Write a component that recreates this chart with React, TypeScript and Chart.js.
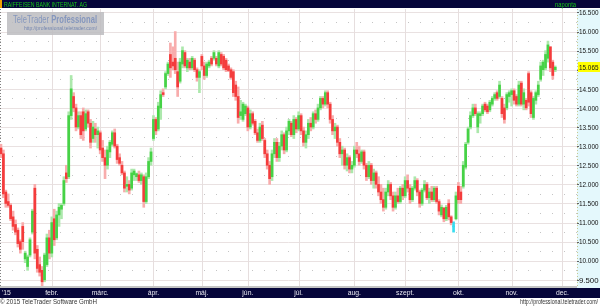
import React, { useEffect, useRef } from "react";
import { Chart, registerables } from "chart.js";

Chart.register(...registerables);

const monthLabels = ["'15", "febr.", "márc.", "ápr.", "máj.", "jún.", "júl.", "aug.", "szept.", "okt.", "nov.", "dec."];
const monthStartIdx = [0, 21, 41, 63, 83, 102, 123, 146, 167, 189, 211, 232];
const yTickValues = [16.5, 16, 15.5, 15, 14.5, 14, 13.5, 13, 12.5, 12, 11.5, 11, 10.5, 10, 9.5];
const lastPrice = 15.065;
const titleText = "RAIFFEISEN BANK INTERNAT. AG";
const periodText = "naponta";

const open = [
  12.95, 12.8, 11.8, 11.55, 11.45, 11.15, 10.95, 10.8, 10.5, 10.9, 10.05, 9.85, 10.15, 10.75, 11.9, 10.3, 9.9, 9.75, 9.5, 9.9, 10.6,
  10.2, 11.1, 10.6, 11.2, 11.35, 11.5, 12.3, 12.2, 13.8, 14.3, 14.0, 13.5, 13.8, 13.9, 13.45, 13.9, 13.6, 13.2, 13.45, 13.3,
  13.35, 12.95, 12.7, 12.5, 12.85, 13.05, 13.35, 13.0, 12.7, 12.5, 12.3, 11.95, 12.0, 11.9, 12.25, 12.2, 12.25, 12.1, 12.2, 11.55, 12.2, 12.6,
  13.2, 13.7, 13.45, 14.0, 14.4, 14.55, 14.9, 15.4, 15.2, 15.3, 14.95, 14.7, 15.15, 15.45, 15.05, 15.2, 15.05, 15.25, 15.0, 14.8,
  15.35, 15.1, 14.85, 15.1, 15.3, 15.3, 15.3, 15.1, 15.4, 15.35, 15.25, 15.1, 15.0, 14.95, 14.6, 14.3, 13.8, 13.7, 13.85,
  14.0, 13.5, 13.85, 13.65, 13.35, 13.15, 13.55, 13.15, 12.8, 12.5, 12.2, 12.8, 13.1, 12.7, 13.0, 13.3, 12.9, 13.4, 13.6, 13.3, 13.7,
  13.45, 13.8, 13.4, 13.1, 13.3, 13.6, 13.5, 13.85, 13.7, 14.0, 14.25, 14.1, 14.4, 14.1, 13.7, 13.4, 13.5, 13.1, 12.8, 12.9, 12.5, 12.7, 12.4,
  12.5, 12.9, 12.8, 12.6, 12.85, 12.5, 12.2, 12.5, 12.1, 12.3, 12.0, 11.8, 11.6, 11.4, 11.8, 12.0, 11.7, 11.4, 11.7, 11.55, 11.9,
  11.7, 12.1, 11.9, 11.6, 11.9, 12.1, 11.8, 11.5, 11.85, 12.0, 11.65, 11.8, 11.6, 11.9, 11.55, 11.2, 11.38, 11.1, 11.5, 11.15, 10.9, 11.1,
  11.95, 11.8, 11.95, 12.45, 13.1, 13.5, 13.8, 14.0, 13.5, 13.8, 13.85, 14.1, 14.05, 13.95, 14.1, 14.25, 14.4, 14.3, 14.25, 14.0, 14.0, 14.3,
  14.35, 14.45, 14.3, 14.1, 14.65, 14.1, 14.2, 14.9, 14.4, 13.75, 14.2, 14.35, 14.75, 15.0, 15.05, 15.3, 15.6, 15.2, 15.0,
];
const high = [
  13.05, 12.9, 11.85, 11.75, 11.5, 11.3, 11.07, 10.86, 10.55, 11.0, 10.25, 10.15, 10.6, 11.35, 12.0, 10.4, 10.1, 9.85, 10.2, 10.7, 10.8,
  11.15, 11.35, 11.3, 11.5, 11.5, 12.2, 12.5, 13.9, 14.85, 14.4, 14.1, 13.9, 13.9, 14.0, 13.95, 13.95, 13.7, 13.65, 13.6, 13.5,
  13.4, 13.15, 12.9, 13.0, 13.15, 13.4, 13.45, 13.05, 12.8, 12.6, 12.35, 12.2, 12.1, 12.4, 12.4, 12.3, 12.35, 12.3, 12.25, 12.3, 12.7, 12.95,
  13.8, 13.75, 14.15, 14.45, 14.5, 14.95, 15.2, 15.7, 15.6, 16.0, 15.2, 15.3, 15.6, 15.5, 15.3, 15.3, 15.35, 15.3, 15.05, 15.0,
  15.4, 15.2, 15.2, 15.25, 15.35, 15.5, 15.35, 15.5, 15.45, 15.4, 15.3, 15.15, 15.05, 15.0, 14.7, 14.55, 14.2, 14.15, 14.1,
  14.05, 13.95, 13.9, 13.7, 13.45, 13.6, 13.65, 13.2, 12.9, 12.6, 12.9, 13.2, 13.2, 13.1, 13.4, 13.35, 13.5, 13.7, 13.65, 13.8, 13.75,
  13.9, 13.85, 13.5, 13.4, 13.7, 13.75, 13.9, 13.95, 14.1, 14.3, 14.3, 14.45, 14.45, 14.15, 13.8, 13.6, 13.55, 13.2, 13.0, 12.95, 12.8, 12.75, 12.6,
  13.0, 13.1, 13.0, 12.9, 12.9, 12.55, 12.6, 12.55, 12.4, 12.35, 12.2, 12.0, 11.9, 11.9, 12.1, 12.05, 11.8, 11.8, 11.9, 11.95, 12.0,
  12.2, 12.25, 12.0, 11.95, 12.2, 12.15, 11.85, 11.9, 12.1, 12.05, 11.9, 11.95, 11.95, 11.95, 11.6, 11.46, 11.4, 11.45, 11.6, 11.18, 11.02, 11.8,
  12.05, 11.95, 12.6, 13.1, 13.5, 13.9, 14.1, 14.1, 13.9, 13.9, 14.1, 14.15, 14.1, 14.2, 14.3, 14.4, 14.45, 14.7, 14.3, 14.1, 14.4, 14.45,
  14.5, 14.5, 14.35, 14.7, 14.7, 14.5, 14.25, 14.95, 14.45, 14.3, 14.45, 14.7, 15.2, 15.25, 15.5, 15.75, 15.6, 15.25, 15.1,
];
const low = [
  12.7, 11.65, 11.4, 11.4, 11.05, 10.8, 10.68, 10.36, 10.2, 10.3, 9.95, 9.75, 10.1, 10.7, 10.05, 9.7, 9.6, 9.3, 9.45, 9.85, 10.05,
  10.1, 10.4, 10.55, 10.9, 11.1, 11.45, 12.05, 12.15, 13.7, 13.9, 13.4, 13.45, 13.2, 13.15, 13.4, 13.5, 12.95, 13.1, 13.1, 12.95,
  12.8, 12.6, 12.15, 12.4, 12.7, 13.0, 12.95, 12.55, 12.5, 12.25, 11.8, 11.8, 11.75, 11.85, 12.1, 12.1, 12.05, 12.0, 11.4, 11.5, 12.15, 12.5,
  13.15, 13.3, 13.4, 13.7, 14.3, 14.5, 14.85, 14.8, 15.0, 14.9, 14.3, 14.65, 15.05, 15.05, 14.95, 15.0, 15.0, 14.95, 14.7, 14.4,
  15.0, 14.75, 14.8, 15.05, 15.1, 15.25, 15.1, 15.05, 15.1, 15.0, 14.95, 14.95, 14.75, 14.3, 14.2, 13.6, 13.7, 13.65, 13.8,
  13.4, 13.45, 13.55, 13.3, 13.1, 13.1, 13.15, 12.7, 12.4, 12.0, 12.1, 12.7, 12.6, 12.6, 12.9, 12.8, 12.85, 13.3, 13.25, 13.2, 13.35,
  13.4, 13.3, 13.0, 12.95, 13.2, 13.4, 13.45, 13.6, 13.65, 13.95, 14.0, 14.05, 14.0, 13.6, 13.3, 13.2, 13.0, 12.7, 12.5, 12.4, 12.35, 12.3, 12.3,
  12.45, 12.7, 12.5, 12.55, 12.4, 12.1, 12.15, 12.0, 11.9, 11.9, 11.7, 11.5, 11.3, 11.35, 11.7, 11.6, 11.3, 11.35, 11.5, 11.5, 11.6,
  11.65, 11.8, 11.5, 11.55, 11.85, 11.7, 11.4, 11.45, 11.8, 11.6, 11.5, 11.55, 11.55, 11.5, 11.2, 11.15, 11.02, 11.05, 11.07, 10.94, 10.75, 11.07,
  11.5, 11.5, 11.9, 12.4, 13.05, 13.45, 13.75, 13.8, 13.35, 13.6, 13.8, 13.9, 13.85, 13.9, 14.05, 14.2, 14.2, 14.25, 13.75, 13.6, 13.95, 14.15,
  14.05, 14.1, 14.05, 14.05, 14.05, 13.95, 13.95, 14.05, 13.75, 13.7, 14.1, 14.3, 14.7, 14.85, 15.0, 15.2, 14.95, 14.75, 14.95,
];
const close = [
  12.8, 11.75, 11.5, 11.45, 11.1, 10.9, 10.75, 10.45, 10.3, 10.5, 10.2, 10.1, 10.55, 11.3, 10.2, 9.8, 9.7, 9.45, 10.15, 10.6, 10.2,
  11.0, 10.55, 11.2, 11.4, 11.45, 12.1, 12.15, 13.8, 14.5, 14.0, 13.5, 13.8, 13.3, 13.4, 13.85, 13.6, 13.1, 13.5, 13.3, 13.4,
  12.9, 12.7, 12.5, 12.9, 13.1, 13.35, 13.0, 12.65, 12.55, 12.3, 11.9, 12.0, 11.85, 12.3, 12.35, 12.28, 12.1, 12.25, 11.55, 12.2, 12.6, 12.85,
  13.7, 13.4, 14.05, 14.35, 14.35, 14.9, 15.15, 15.05, 15.1, 15.0, 14.55, 15.2, 15.5, 15.1, 15.25, 15.05, 15.3, 15.0, 14.8, 14.95,
  15.1, 14.85, 15.15, 15.2, 15.15, 15.45, 15.15, 15.45, 15.15, 15.05, 15.0, 14.98, 14.8, 14.4, 14.3, 13.75, 13.9, 14.1, 14.05,
  13.5, 13.85, 13.6, 13.35, 13.15, 13.5, 13.2, 12.8, 12.5, 12.15, 12.8, 13.1, 12.7, 13.0, 13.3, 12.9, 13.4, 13.65, 13.3, 13.7, 13.45,
  13.8, 13.4, 13.1, 13.3, 13.6, 13.5, 13.85, 13.7, 14.0, 14.25, 14.1, 14.4, 14.1, 13.7, 13.4, 13.5, 13.1, 12.8, 12.9, 12.5, 12.7, 12.4, 12.5,
  12.9, 12.8, 12.6, 12.85, 12.5, 12.2, 12.5, 12.1, 12.3, 12.0, 11.8, 11.6, 11.4, 11.8, 12.0, 11.7, 11.4, 11.7, 11.55, 11.9, 11.7,
  12.1, 11.9, 11.6, 11.9, 12.1, 11.8, 11.5, 11.85, 12.0, 11.65, 11.8, 11.6, 11.9, 11.55, 11.3, 11.4, 11.1, 11.4, 11.15, 11.0, 10.9, 11.7,
  11.6, 11.6, 12.5, 13.05, 13.45, 13.8, 14.0, 13.85, 13.85, 13.85, 14.05, 13.95, 13.9, 14.15, 14.25, 14.35, 14.25, 14.6, 13.85, 13.7, 14.35, 14.4,
  14.45, 14.2, 14.1, 14.6, 14.1, 14.4, 14.0, 14.15, 13.85, 14.25, 14.4, 14.6, 15.1, 15.2, 15.4, 15.65, 15.05, 14.85, 15.065,
];

const UP_BODY = "#46d246";
const UP_WICK = "#ace8ac";
const DN_BODY = "#f43c3c";
const DN_WICK = "#f8acac";
const FLAT = "#38dcef";
const NAVY = "#06063a";

function drawText(
  ctx: CanvasRenderingContext2D,
  text: string,
  x: number,
  y: number,
  font: string,
  color: string,
  width: number | null,
  align: "left" | "right" | "center" = "left"
) {
  ctx.save();
  ctx.font = font;
  ctx.fillStyle = color;
  ctx.textBaseline = "middle";
  ctx.textAlign = "left";
  const m = ctx.measureText(text).width;
  const sx = width ? width / m : 0.85;
  const w = m * sx;
  let x0 = x;
  if (align === "right") x0 = x - w;
  else if (align === "center") x0 = x - w / 2;
  ctx.translate(x0, y);
  ctx.scale(sx, 1);
  ctx.fillText(text, 0, 0);
  ctx.restore();
}

const decorPlugin = {
  id: "decor",
  beforeDraw(chart: any) {
    const ctx = chart.ctx as CanvasRenderingContext2D;
    const { chartArea } = chart;
    ctx.save();
    ctx.fillStyle = "#ffffff";
    ctx.fillRect(0, 0, chart.width, chart.height);
    ctx.fillStyle = "#e4f8fc";
    ctx.fillRect(chartArea.right, chartArea.top, chart.width - chartArea.right, chartArea.bottom - chartArea.top + 2);
    ctx.restore();
  },
  beforeDatasetsDraw(chart: any) {
    const ctx = chart.ctx as CanvasRenderingContext2D;
    const { chartArea } = chart;
    const xs = chart.scales.x;
    const ys = chart.scales.y;
    ctx.save();
    for (let v = 9.5; v <= 16.5001; v += 0.25) {
      const py = Math.round(ys.getPixelForValue(v)) + 0.5;
      const major = Math.abs(v * 2 - Math.round(v * 2)) < 1e-6;
      ctx.beginPath();
      if (major) {
        ctx.strokeStyle = "#e9e1e1";
        ctx.setLineDash([]);
      } else {
        ctx.strokeStyle = "#c4c4c4";
        ctx.setLineDash([1, 11]);
      }
      ctx.lineWidth = 1;
      ctx.moveTo(chartArea.left, py);
      ctx.lineTo(chartArea.right, py);
      ctx.stroke();
    }
    ctx.setLineDash([]);
    ctx.strokeStyle = "#e6dede";
    monthStartIdx.forEach((idx, k) => {
      if (k === 0) return;
      const px = Math.round(xs.getPixelForValue(idx)) + 0.5;
      ctx.beginPath();
      ctx.moveTo(px, chartArea.top);
      ctx.lineTo(px, chartArea.bottom);
      ctx.stroke();
    });
    ctx.strokeStyle = "#808080";
    ctx.setLineDash([1, 2]);
    ctx.beginPath();
    ctx.moveTo(0.5, chartArea.top);
    ctx.lineTo(0.5, chartArea.bottom);
    ctx.stroke();
    ctx.strokeStyle = "#c8c890";
    ctx.beginPath();
    ctx.moveTo(chartArea.right + 0.5, chartArea.top);
    ctx.lineTo(chartArea.right + 0.5, chartArea.bottom);
    ctx.stroke();
    ctx.restore();
  },
  afterDatasetsDraw(chart: any) {
    const ctx = chart.ctx as CanvasRenderingContext2D;
    ctx.save();
    ctx.fillStyle = "rgba(188,188,192,0.85)";
    ctx.fillRect(7, 12, 97, 23);
    ctx.restore();
    ctx.save();
    ctx.font = "11px 'Liberation Sans', Arial, sans-serif";
    const w1 = ctx.measureText("TeleTrader ").width;
    ctx.font = "bold 11px 'Liberation Sans', Arial, sans-serif";
    const w2 = ctx.measureText("Professional").width;
    const sx = 84 / (w1 + w2);
    ctx.translate(13, 19.5);
    ctx.scale(sx, 1);
    ctx.textBaseline = "middle";
    ctx.fillStyle = "#8496bd";
    ctx.font = "11px 'Liberation Sans', Arial, sans-serif";
    ctx.fillText("TeleTrader", 0, 0);
    ctx.font = "bold 11px 'Liberation Sans', Arial, sans-serif";
    ctx.fillText("Professional", w1, 0);
    ctx.restore();
    drawText(ctx, "http://professional.teletrader.com/", 97, 28.5, "6px 'Liberation Sans', Arial, sans-serif", "#7486b0", 73, "right");
  },
  afterDraw(chart: any) {
    const ctx = chart.ctx as CanvasRenderingContext2D;
    const { chartArea } = chart;
    const xs = chart.scales.x;
    const ys = chart.scales.y;
    const W = chart.width;
    const font = "8px 'Liberation Sans', Arial, sans-serif";
    ctx.save();
    ctx.fillStyle = NAVY;
    ctx.fillRect(0, 0, W, 8);
    ctx.fillStyle = "#f0a000";
    ctx.fillRect(0, 0, 2, 8);
    ctx.restore();
    drawText(ctx, titleText, 4, 4.5, font, "#18c818", 83, "left");
    drawText(ctx, periodText, chartArea.right - 1, 4.5, font, "#18c818", 21, "right");
    ctx.save();
    ctx.fillStyle = "#c4c4c4";
    ctx.fillRect(0, chartArea.bottom, chartArea.right, 2);
    ctx.fillStyle = NAVY;
    ctx.fillRect(0, chartArea.bottom + 2, W, 10);
    ctx.restore();
    monthLabels.forEach((lab, k) => {
      const px = xs.getPixelForValue(monthStartIdx[k]);
      if (k === 0) drawText(ctx, lab, 2, chartArea.bottom + 7, font, "#e8e8f0", null, "left");
      else drawText(ctx, lab, px, chartArea.bottom + 7, font, "#e8e8f0", null, "center");
    });
    drawText(ctx, "© 2015 TeleTrader Software GmbH", 0, 301.5, font, "#333333", 97, "left");
    drawText(ctx, "http://professional.teletrader.com/", 598, 301.5, font, "#333333", 78, "right");
    yTickValues.forEach((v) => {
      const py = ys.getPixelForValue(v);
      ctx.save();
      ctx.fillStyle = "#606060";
      ctx.fillRect(chartArea.right, Math.round(py), 2, 1);
      ctx.restore();
      drawText(ctx, v.toFixed(3), chartArea.right + 2, py + 0.5, font, "#111111", 19.5, "left");
    });
    const pl = ys.getPixelForValue(lastPrice);
    ctx.save();
    ctx.fillStyle = "#ffff00";
    ctx.fillRect(chartArea.right + 1, Math.round(pl) - 5, W - chartArea.right - 1, 10);
    ctx.restore();
    drawText(ctx, lastPrice.toFixed(3), chartArea.right + 2, pl + 0.5, font, "#111111", 19.5, "left");
  },
};

export default function App() {
  const ref = useRef<HTMLCanvasElement | null>(null);
  useEffect(() => {
    document.body.style.margin = "0";
    const n = Math.min(open.length, high.length, low.length, close.length);
    const bodies: any[] = [];
    const wicks: any[] = [];
    const bodyColors: string[] = [];
    const wickColors: string[] = [];
    for (let i = 0; i < n; i++) {
      const o = open[i];
      const c = close[i];
      let lo = Math.min(o, c);
      let hi = Math.max(o, c);
      const up = c > o;
      const flat = c === o;
      if (hi - lo < 0.02) {
        hi += 0.01;
        lo -= 0.01;
      }
      bodies.push({ x: i, y: [lo, hi] });
      wicks.push({ x: i, y: [low[i], high[i]] });
      bodyColors.push(flat ? FLAT : up ? UP_BODY : DN_BODY);
      wickColors.push(flat ? FLAT : up ? UP_WICK : DN_WICK);
    }
    const chart = new Chart(ref.current as HTMLCanvasElement, {
      type: "bar",
      data: {
        datasets: [
          { data: bodies, backgroundColor: bodyColors, barThickness: 2, grouped: false, order: 0 } as any,
          { data: wicks, backgroundColor: wickColors, barThickness: 2, grouped: false, order: 1 } as any,
        ],
      },
      options: {
        animation: false,
        responsive: false,
        maintainAspectRatio: false,
        layout: { padding: { left: 0, right: 23, top: 9, bottom: 20 } },
        scales: {
          x: { type: "linear", min: -0.4, max: 238, offset: false, display: false },
          y: { type: "linear", min: 9.34, max: 16.59, display: false },
        },
        plugins: { legend: { display: false }, tooltip: { enabled: false } },
      },
      plugins: [decorPlugin],
    });
    return () => chart.destroy();
  }, []);
  return (
    <div style={{ width: 600, height: 306 }}>
      <canvas ref={ref} width={600} height={306} style={{ display: "block" }} />
    </div>
  );
}
